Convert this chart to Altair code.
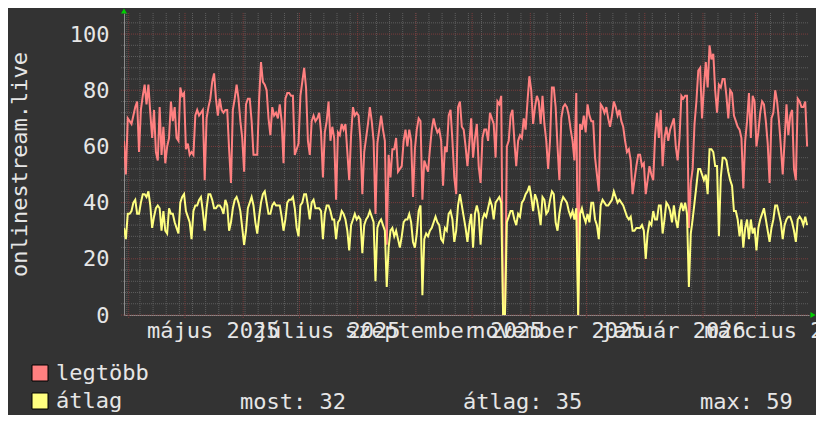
import altair as alt
import pandas as pd

# ---- data (daily values) ----
legtobb = [62,50,70,69,68,71,74,76,58,73, 78,82,75,82,72,63,73,58,55,74,
           57,67,54,60,63,76,69,74,63,62, 81,78,79,59,61,57,58,57,71,73,
           71,72,73,48,70,74,77,83,86,77, 71,77,73,72,73,73,59,47,73,77,
           82,77,69,63,51,75,77,77,69,57, 57,57,77,90,83,82,80,70,64,74,
           71,72,70,75,69,54,77,79,79,78, 78,57,59,61,
           78,83,88,81,62,57,69,71,69,70, 72,65,49,65,69,76,62,67,63,41,
           65,64,68,66,68,58,48,64,74,71, 72,71,62,43,58,63,68,74,69,62,
           36,61,66,71,66,62,25,57,49,59, 59,63,51,52,53,62,66,60,66,62,
           42,59,66,70,69,41,55,53,51,59, 66,70,67,65,66,62,46,60,58,71,
           73,62,49,43,74,76,67,66,60,53,61,
           70,56,63,68,53,47,63,66,66,62, 72,70,68,56,76,75,78,0,0,60,
           62,71,73,62,53,62,64,63,70,66, 76,85,80,68,74,78,76,68,78,68,
           62,52,62,81,81,74,60,48,70,74, 75,74,71,66,62,55,79,0,68,66,
           71,65,75,71,69,69,56,50,44,75, 74,72,74,70,67,71,76,74,71,73,
           69,67,62,58,59,55,43,48,53,57,57,
           53,54,43,48,53,50,48,64,72,63, 73,53,63,67,62,66,68,70,60,55,
           63,78,77,78,78,31,47,52,68,76, 87,88,70,81,90,81,96,91,93,80,
           72,82,81,84,84,78,70,80,79,71, 69,67,66,63,45,62,69,79,63,78,
           76,60,65,72,76,75,69,61,47,70, 72,80,76,69,60,50,62,75,64,71,
           73,52,48,77,76,74,74,76,60]

atlag = [31,27,36,36,37,40,41,36,36,40, 43,43,42,44,39,31,35,38,39,38,
         30,37,30,29,38,36,36,33,31,29, 40,42,43,37,35,33,27,37,39,39,
         41,42,37,30,38,43,43,41,38,38, 39,39,38,36,41,39,30,33,38,41,
         42,40,37,31,25,30,38,40,42,39, 33,29,35,40,43,44,40,36,36,39,
         40,39,39,39,35,30,34,40,41,41, 42,38,31,28,
         39,40,43,43,39,34,40,41,38,38, 38,37,27,36,39,39,37,34,34,27,
         33,34,37,36,34,30,23,32,34,36, 34,35,34,22,32,34,35,37,35,33,
         12,31,33,34,32,30,10,24,30,31, 28,30,27,24,28,33,34,34,36,33,
         26,24,29,37,39,7,27,29,28,30, 31,33,35,33,32,27,26,31,30,36,
         37,34,26,30,39,43,39,35,31,26,32,
         36,24,36,39,36,25,34,36,35,38, 41,39,34,40,41,42,40,0,0,33,
         35,37,37,34,32,36,35,40,41,43, 44,46,42,37,43,41,37,32,42,41,
         36,37,41,44,43,33,30,36,40,42, 41,40,37,35,37,34,38,0,36,38,
         35,33,36,33,40,40,34,32,27,39, 41,40,39,39,40,41,44,42,40,41,
         40,39,37,35,34,35,30,30,31,31,31,
         32,30,20,29,33,32,37,34,34,39, 39,29,34,40,39,37,33,39,34,31,
         37,40,37,40,36,10,29,34,40,46, 52,52,50,48,50,43,59,59,58,53,
         53,28,49,56,56,55,51,48,46,37, 37,34,28,34,24,31,34,27,34,29,
         31,23,31,34,36,38,34,30,26,31, 34,39,39,36,33,27,32,34,35,35,
         33,30,26,34,35,34,32,35,32]

series_names = ["legtöbb", "átlag"]
series_colors = ["#ff8080", "#ffff80"]
stats_names = ["most", "átlag", "max"]
stats_values = [32, 35, 59]

x_label_texts = ["május 2025", "július 2025", "szeptember 2025",
                 "november 2025", "január 2026", "március 2026"]
x_label_dates = ["2025-05-16", "2025-07-16", "2025-09-16",
                 "2025-11-16", "2026-01-16", "2026-03-16"]
y_major = [0, 20, 40, 60, 80, 100]
y_minor = [v for v in range(4, 108, 4) if v % 20]

y_title = "onlinestream.live"

# ---- tables ----
FMT = "%Y-%m-%dT%H:%M:%S"
start = pd.Timestamp("2025-03-29 12:00")
dates = pd.date_range(start, periods=len(legtobb), freq="D").strftime(FMT)
df = pd.DataFrame({"date": dates, "legtobb": legtobb, "atlag": atlag})

month_df = pd.DataFrame({"date": pd.date_range("2025-04-01", "2026-03-01", freq="MS").strftime(FMT)})
week_df = pd.DataFrame({"date": pd.date_range("2025-03-31", "2026-03-29", freq="W-MON").strftime(FMT)})
xlab_df = pd.DataFrame({"date": [d + "T00:00:00" for d in x_label_dates], "label": x_label_texts})
ymaj_df = pd.DataFrame({"v": y_major})
ymin_df = pd.DataFrame({"v": y_minor})

FONT = "DejaVu Sans Mono"
FS = 22
TXT = "#e6e6e6"
MINOR = "#5e5e5e"
MAJOR = "#7a3c3c"
PLOT_W, PLOT_H = 685, 302

xscale = alt.Scale(domain=[alt.DateTime(year=2025, month=3, date=29, hours=12),
                           alt.DateTime(year=2026, month=3, date=29, hours=12)])
yscale = alt.Scale(domain=[0, 107.5], nice=False, zero=True)

X = alt.X("date:T", scale=xscale,
          axis=alt.Axis(labels=False, ticks=False, grid=False, title=None,
                        domainColor="#8c8c8c", domainWidth=1))
Y = alt.Y("v:Q", scale=yscale,
          axis=alt.Axis(values=y_major, ticks=False, tickSize=0, grid=False,
                        labelFont=FONT, labelFontSize=FS, labelColor=TXT,
                        labelPadding=15, domainColor="#8c8c8c", domainWidth=1,
                        title=y_title, titleFont=FONT, titleFontSize=FS,
                        titleColor=TXT, titleFontWeight="normal", titleAngle=270,
                        titleAlign="center", titleBaseline="middle",
                        titleX=-105, titleY=151))

vminor = alt.Chart(week_df).mark_rule(color=MINOR, strokeDash=[1, 1], strokeWidth=1).encode(
    x=X, y=alt.value(0), y2=alt.value(PLOT_H))
hminor = alt.Chart(ymin_df).mark_rule(color=MINOR, strokeDash=[1, 1], strokeWidth=1).encode(
    y=Y, x=alt.value(-3), x2=alt.value(PLOT_W))
vmajor = alt.Chart(month_df).mark_rule(color=MAJOR, strokeDash=[1, 1], strokeWidth=1, clip=False).encode(
    x=X, y=alt.value(0), y2=alt.value(PLOT_H + 3))
hmajor = alt.Chart(ymaj_df).mark_rule(color=MAJOR, strokeDash=[1, 1], strokeWidth=1, clip=False).encode(
    y=Y, x=alt.value(-3), x2=alt.value(PLOT_W))

line_max = alt.Chart(df).mark_line(color=series_colors[0], strokeWidth=2, clip=True).encode(
    x=X, y=alt.Y("legtobb:Q", scale=yscale))
line_avg = alt.Chart(df).mark_line(color=series_colors[1], strokeWidth=2, clip=True).encode(
    x=X, y=alt.Y("atlag:Q", scale=yscale))

xlabels = alt.Chart(xlab_df).mark_text(font=FONT, fontSize=FS, color=TXT, align="center",
                                       baseline="alphabetic", clip=False).encode(
    x=X, y=alt.value(PLOT_H + 23), text="label:N")

arrow_up = alt.Chart(ymaj_df.head(1)).mark_point(shape="triangle-up", filled=True, color="#00d000",
                                                 size=35, opacity=1).encode(
    x=alt.value(0), y=alt.value(-2))
arrow_right = alt.Chart(ymaj_df.head(1)).mark_point(shape="triangle-right", filled=True, color="#00d000",
                                                    size=35, opacity=1).encode(
    x=alt.value(PLOT_W + 4), y=alt.value(PLOT_H))

legend_layer = alt.Chart(pd.DataFrame({"series": pd.Series([], dtype=str)})).mark_square(
    filled=True).encode(
    color=alt.Color("series:N", scale=alt.Scale(domain=series_names, range=series_colors),
                    legend=alt.Legend(title=None, orient="none", legendX=-95, legendY=349,
                                      direction="vertical", symbolType="square", symbolSize=256,
                                      symbolStrokeColor="black", symbolStrokeWidth=1,
                                      symbolOpacity=1, labelFont=FONT, labelFontSize=FS,
                                      labelColor=TXT, labelOffset=5, rowPadding=6,
                                      padding=0, labelLimit=0)))

stat_layers = []
for name, val, px in zip(stats_names, stats_values, [116, 339, 576]):
    stat_layers.append(
        alt.Chart(ymaj_df.head(1)).mark_text(font=FONT, fontSize=FS, color=TXT, align="left",
                                             baseline="alphabetic", clip=False,
                                             text=f"{name}: {val}").encode(
            x=alt.value(px), y=alt.value(396)))

chart = alt.layer(vminor, hminor, vmajor, hmajor, line_max, line_avg, xlabels,
                  arrow_up, arrow_right, legend_layer, *stat_layers).properties(
    width=PLOT_W, height=PLOT_H,
    padding={"left": 116, "top": 5, "right": 7, "bottom": 100},
    autosize=alt.AutoSizeParams(type="none"),
    background="#333333",
).configure_view(fill="#222222", stroke=None)

chart.save("out.html", embed_options={"renderer": "svg", "actions": False})
